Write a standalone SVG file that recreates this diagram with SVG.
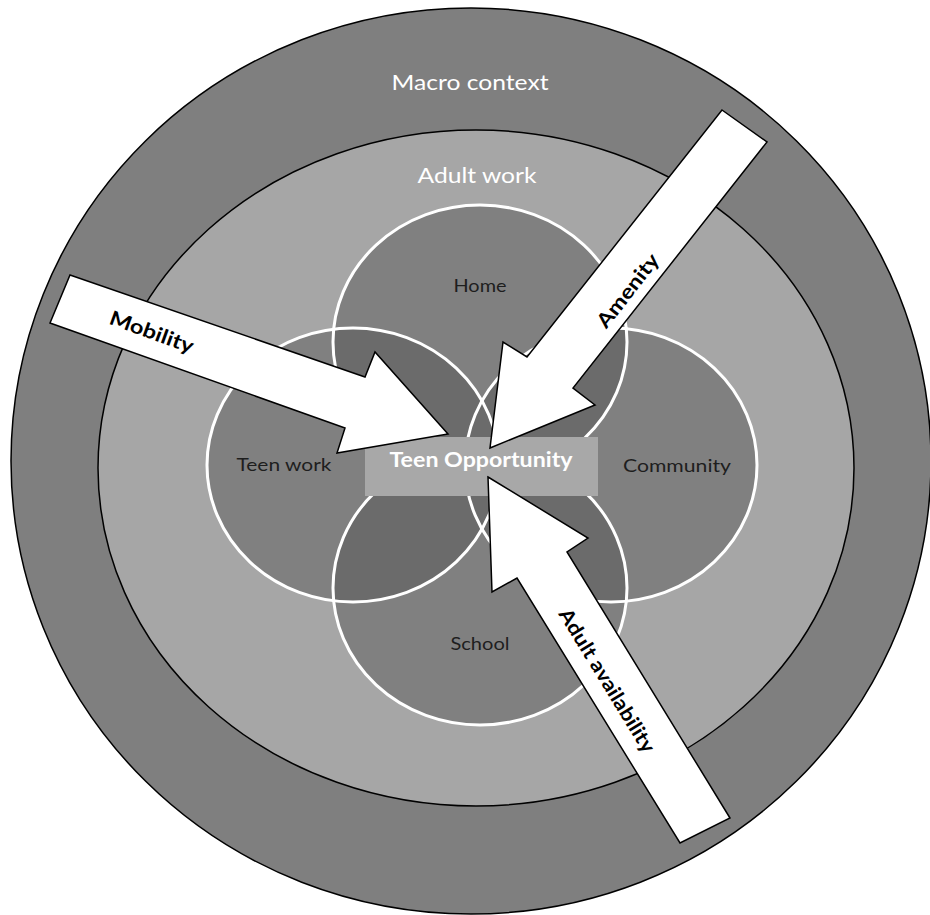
<svg xmlns="http://www.w3.org/2000/svg" width="930" height="915" viewBox="0 0 930 915">
  <style>
    .ring { stroke: #000; stroke-width: 1.5; }
    .fill { fill: #808080; stroke: none; }
    .ovl { fill: #6b6b6b; stroke: none; }
    .rim { fill: none; stroke: #fff; stroke-width: 3; }
    .lbl { font-family: Lato, "Open Sans", "Liberation Sans", sans-serif; font-size: 18px; fill: #1e1e1e; text-anchor: middle; }
    .big { font-family: Lato, "Open Sans", "Liberation Sans", sans-serif; font-size: 22px; fill: #ffffff; text-anchor: middle; }
    .arrow { fill: #fff; stroke: #000; stroke-width: 1.5; stroke-linejoin: miter; }
    .alb { font-family: Lato, "Open Sans", "Liberation Sans", sans-serif; font-size: 20px; font-weight: bold; fill: #000; text-anchor: middle; dominant-baseline: central; }
  </style>
  <defs>
    <ellipse id="cHome" cx="480" cy="342" rx="147" ry="137"/>
    <ellipse id="cTeen" cx="353" cy="465" rx="146" ry="137"/>
    <ellipse id="cComm" cx="611" cy="465" rx="146" ry="137"/>
    <ellipse id="cSchool" cx="480" cy="588" rx="147" ry="137"/>
    <clipPath id="clipHome"><use href="#cHome"/></clipPath>
    <clipPath id="clipTeen"><use href="#cTeen"/></clipPath>
    <clipPath id="clipComm"><use href="#cComm"/></clipPath>
    <clipPath id="clipSchool"><use href="#cSchool"/></clipPath>
  </defs>
  <rect width="930" height="915" fill="#ffffff"/>
  <g id="macro-context">
    <ellipse class="ring" cx="471" cy="461" rx="460" ry="453" fill="#7f7f7f"/>
    <text class="big" x="470" y="90" textLength="157" lengthAdjust="spacingAndGlyphs">Macro context</text>
  </g>
  <g id="adult-work">
    <ellipse class="ring" cx="476" cy="468" rx="378" ry="338" fill="#a6a6a6"/>
    <text class="big" x="477" y="183" fill="#f2f2f2" textLength="119" lengthAdjust="spacingAndGlyphs">Adult work</text>
  </g>
  <g id="home">
    <use href="#cHome" class="fill"/>
  </g>
  <g id="teen-work">
    <use href="#cTeen" class="fill"/>
  </g>
  <g id="community">
    <use href="#cComm" class="fill"/>
  </g>
  <g id="school">
    <use href="#cSchool" class="fill"/>
  </g>
  <g id="overlaps">
    <use href="#cTeen" class="ovl" clip-path="url(#clipHome)"/>
    <use href="#cComm" class="ovl" clip-path="url(#clipHome)"/>
    <use href="#cSchool" class="ovl" clip-path="url(#clipHome)"/>
    <use href="#cSchool" class="ovl" clip-path="url(#clipTeen)"/>
    <use href="#cSchool" class="ovl" clip-path="url(#clipComm)"/>
    <use href="#cComm" class="ovl" clip-path="url(#clipTeen)"/>
  </g>
  <g id="rims">
    <use href="#cHome" class="rim"/>
    <use href="#cTeen" class="rim"/>
    <use href="#cComm" class="rim"/>
    <use href="#cSchool" class="rim"/>
  </g>
  <g id="labels">
    <text class="lbl" x="480" y="292" textLength="53" lengthAdjust="spacingAndGlyphs">Home</text>
    <text class="lbl" x="284" y="471" textLength="95" lengthAdjust="spacingAndGlyphs">Teen work</text>
    <text class="lbl" x="677" y="472" textLength="108" lengthAdjust="spacingAndGlyphs">Community</text>
    <text class="lbl" x="480" y="650" textLength="59" lengthAdjust="spacingAndGlyphs">School</text>
  </g>
  <g id="teen-opportunity">
    <rect x="365" y="437" width="233" height="59" fill="#a8a8a8"/>
    <text x="481" y="467" font-family="Lato, 'Open Sans', 'Liberation Sans', sans-serif" font-size="20" font-weight="bold" fill="#ffffff" text-anchor="middle" textLength="183" lengthAdjust="spacingAndGlyphs">Teen Opportunity</text>
  </g>
  <g id="connectors">
    <g id="mobility">
      <polygon class="arrow" points="70,275 365,377 375,352 448,434 337,453 345,428 50,323"/>
      <text class="alb" transform="translate(152,331) rotate(20)" textLength="88" lengthAdjust="spacingAndGlyphs">Mobility</text>
    </g>
    <g id="amenity">
      <polygon class="arrow" points="722,110 767,142 573,388 595,405 490,448 503,342 527,357"/>
      <text class="alb" transform="translate(627,290) rotate(-52)" textLength="88" lengthAdjust="spacingAndGlyphs">Amenity</text>
    </g>
    <g id="adult-availability">
      <polygon class="arrow" points="488,477 588,538 567,552 730,818 680,843 517,578 492,592"/>
      <text class="alb" transform="translate(608,680) rotate(58.5)" textLength="165" lengthAdjust="spacingAndGlyphs">Adult availability</text>
    </g>
  </g>
</svg>
